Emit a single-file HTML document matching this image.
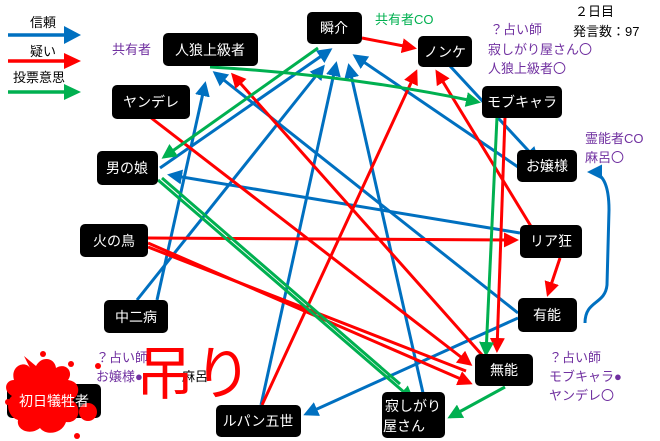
<!DOCTYPE html>
<html><head><meta charset="utf-8"><style>
html,body{margin:0;padding:0;background:#fff;width:660px;height:441px;overflow:hidden}
svg{display:block;font-family:"Liberation Sans","Noto Sans CJK JP",sans-serif}
</style></head><body>
<svg width="660" height="441" viewBox="0 0 660 441" xmlns="http://www.w3.org/2000/svg">
<defs>
<marker id="b" markerWidth="5" markerHeight="5" refX="4" refY="2.5" orient="auto" markerUnits="strokeWidth"><path d="M0,0L5,2.5L0,5z" fill="#0070c0"/></marker>
<marker id="r" markerWidth="5" markerHeight="5" refX="4" refY="2.5" orient="auto" markerUnits="strokeWidth"><path d="M0,0L5,2.5L0,5z" fill="#ff0000"/></marker>
<marker id="g" markerWidth="5" markerHeight="5" refX="4" refY="2.5" orient="auto" markerUnits="strokeWidth"><path d="M0,0L5,2.5L0,5z" fill="#00b050"/></marker>
</defs>
<!-- legend -->
<g stroke-width="3.5">
<line x1="8" y1="35" x2="66" y2="35" stroke="#0070c0"/>
<line x1="8" y1="61" x2="66" y2="61" stroke="#ff0000"/>
<line x1="8" y1="92" x2="66" y2="92" stroke="#00b050"/>
</g>
<path d="M64,26L81,35L64,44z" fill="#0070c0"/>
<path d="M64,53L81,61L64,69z" fill="#ff0000"/>
<path d="M64,84L81,92L64,100z" fill="#00b050"/>
<g font-size="13" fill="#000">
<text x="30" y="27">信頼</text>
<text x="30" y="56">疑い</text>
<text x="13" y="82">投票意思</text>
<text x="575" y="16">２日目</text>
<text x="573" y="36">発言数：97</text>
</g>
<!-- edges -->
<g stroke-width="3" fill="none">
<line x1="137" y1="300" x2="323" y2="67" stroke="#0070c0" marker-end="url(#b)"/>
<line x1="157" y1="300" x2="205" y2="84" stroke="#0070c0" marker-end="url(#b)"/>
<line x1="261" y1="405" x2="336" y2="64" stroke="#0070c0" marker-end="url(#b)"/>
<line x1="423" y1="393" x2="349" y2="66" stroke="#0070c0" marker-end="url(#b)"/>
<line x1="160" y1="168" x2="330" y2="50" stroke="#0070c0" marker-end="url(#b)"/>
<line x1="518" y1="167" x2="355" y2="56" stroke="#0070c0" marker-end="url(#b)"/>
<line x1="518" y1="313" x2="215" y2="73" stroke="#0070c0" marker-end="url(#b)"/>
<line x1="518" y1="318" x2="306" y2="414" stroke="#0070c0" marker-end="url(#b)"/>
<line x1="520" y1="233" x2="170" y2="175" stroke="#0070c0" marker-end="url(#b)"/>
<line x1="450" y1="66" x2="537" y2="160" stroke="#0070c0" marker-end="url(#b)"/>
<path d="M585,323 C585,300 605,305 607,285 L609,210 C609,180 600,172 590,172" stroke="#0070c0" marker-end="url(#b)"/>
<line x1="362" y1="38" x2="414" y2="48" stroke="#ff0000" marker-end="url(#r)"/>
<line x1="262" y1="405" x2="416" y2="72" stroke="#ff0000" marker-end="url(#r)"/>
<line x1="532" y1="228" x2="437" y2="72" stroke="#ff0000" marker-end="url(#r)"/>
<line x1="505" y1="117" x2="497" y2="350" stroke="#ff0000" marker-end="url(#r)"/>
<line x1="482" y1="355" x2="233" y2="75" stroke="#ff0000" marker-end="url(#r)"/>
<line x1="150" y1="117" x2="470" y2="364" stroke="#ff0000" marker-end="url(#r)"/>
<line x1="148" y1="238" x2="516" y2="240" stroke="#ff0000" marker-end="url(#r)"/>
<line x1="148" y1="243" x2="470" y2="383" stroke="#ff0000" marker-end="url(#r)"/>
<line x1="148" y1="247" x2="466" y2="371" stroke="#ff0000"/>
<line x1="560" y1="258" x2="548" y2="294" stroke="#ff0000" marker-end="url(#r)"/>
<path d="M210,67 Q350,75 478,102" stroke="#00b050" marker-end="url(#g)"/>
<line x1="318" y1="48" x2="164" y2="157" stroke="#00b050" marker-end="url(#g)"/>
<line x1="497" y1="117" x2="486" y2="354" stroke="#00b050" marker-end="url(#g)"/>
<line x1="158" y1="180" x2="412" y2="399" stroke="#00b050" marker-end="url(#g)"/>
<line x1="162" y1="178" x2="400" y2="384" stroke="#00b050"/>
<line x1="505" y1="387" x2="450" y2="417" stroke="#00b050" marker-end="url(#g)"/>
</g>
<!-- nodes -->
<g fill="#000">
<rect x="307" y="12" width="55" height="32" rx="5"/>
<rect x="418" y="36" width="54" height="31" rx="5"/>
<rect x="163" y="33" width="95" height="33" rx="5"/>
<rect x="112" y="85" width="78" height="34" rx="5"/>
<rect x="482" y="86" width="80" height="32" rx="5"/>
<rect x="97" y="151" width="61" height="34" rx="5"/>
<rect x="517" y="150" width="60" height="32" rx="5"/>
<rect x="80" y="224" width="68" height="33" rx="5"/>
<rect x="520" y="225" width="62" height="33" rx="5"/>
<rect x="104" y="300" width="64" height="33" rx="5"/>
<rect x="518" y="298" width="59" height="34" rx="5"/>
<rect x="475" y="354" width="58" height="32" rx="5"/>
<rect x="7" y="384" width="94" height="34" rx="5"/>
<rect x="216" y="405" width="85" height="32" rx="5"/>
<rect x="382" y="392" width="63" height="46" rx="5"/>
</g>
<!-- blood splat -->
<g fill="#ff0000">
<path d="M14,380 C10,366 25,360 30,368 L24,356 L36,366 C42,355 55,358 56,368 C66,362 74,372 68,380 C82,382 80,396 72,400 C84,408 78,424 66,422 C62,434 46,436 40,428 C30,436 16,430 18,420 C6,416 6,400 12,396 C2,390 6,380 14,380Z"/>
<circle cx="88" cy="412" r="9"/>
<circle cx="43" cy="354" r="3"/>
<circle cx="71" cy="364" r="3"/>
<circle cx="98" cy="366" r="3"/>
<circle cx="77" cy="436" r="3"/>
<circle cx="8" cy="402" r="3"/>
</g>
<g fill="#fff" font-size="14" text-anchor="middle">
<text x="334" y="33">瞬介</text>
<text x="445" y="57">ノンケ</text>
<text x="210" y="55">人狼上級者</text>
<text x="151" y="107">ヤンデレ</text>
<text x="522" y="107">モブキャラ</text>
<text x="127" y="173">男の娘</text>
<text x="547" y="171">お嬢様</text>
<text x="114" y="246">火の鳥</text>
<text x="551" y="246">リア狂</text>
<text x="136" y="322">中二病</text>
<text x="547" y="320">有能</text>
<text x="504" y="375">無能</text>
<text x="54" y="406">初日犠牲者</text>
<text x="258" y="426">ルパン五世</text>
<text x="413" y="411">寂しがり</text>
<text x="404" y="431">屋さん</text>
</g>
<g fill="#7030a0" font-size="13">
<text x="112" y="54">共有者</text>
<text x="490" y="34">？占い師</text>
<text x="488" y="54">寂しがり屋さん〇</text>
<text x="488" y="73">人狼上級者〇</text>
<text x="585" y="143">霊能者CO</text>
<text x="585" y="162">麻呂〇</text>
<text x="549" y="362">？占い師</text>
<text x="549" y="381">モブキャラ●</text>
<text x="549" y="400">ヤンデレ〇</text>
<text x="96" y="362">？占い師</text>
<text x="96" y="381">お嬢様●</text>
</g>
<text x="375" y="24" font-size="13" fill="#00b050">共有者CO</text>
<text x="182" y="381" font-size="13" fill="#000">麻呂</text>
<text x="136" y="394" font-size="58" fill="#ff0000">吊り</text>
</svg>
</body></html>
